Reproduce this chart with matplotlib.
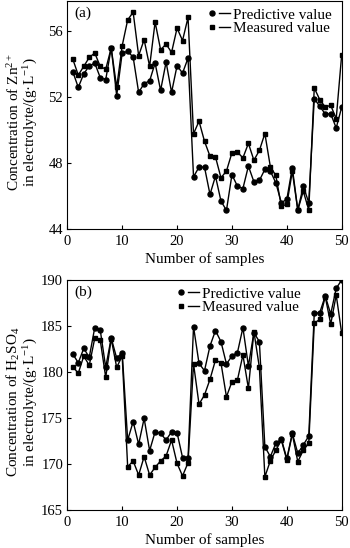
import matplotlib
matplotlib.use("Agg")
import matplotlib.pyplot as plt
from matplotlib.lines import Line2D
from matplotlib.legend_handler import HandlerTuple

plt.rcParams["font.family"] = ["Liberation Serif", "DejaVu Serif"]
plt.rcParams["mathtext.fontset"] = "custom"
plt.rcParams["mathtext.rm"] = "Liberation Serif"
plt.rcParams["mathtext.it"] = "Liberation Serif:italic"

samples = list(range(1, 51))

# panel (a): Zn2+ concentration, g/L
zn_pred = [53.56, 52.6, 53.43, 53.9, 54.08, 53.2, 53.07, 55.0, 52.1, 54.69,
           54.79, 54.44, 52.3, 52.83, 53.0, 54.08, 52.42, 54.14, 52.3, 53.92,
           53.47, 54.38, 47.17, 47.76, 47.76, 46.1, 47.21, 45.7, 45.13, 47.3,
           46.6, 46.46, 47.82, 46.87, 46.95, 47.62, 47.52, 46.8, 45.6, 45.8,
           47.72, 45.15, 46.6, 45.6, 51.92, 51.45, 50.99, 50.99, 50.14, 51.4]
zn_meas = [54.32, 53.35, 53.88, 54.42, 54.69, 53.88, 53.7, 55.0, 52.6, 55.13,
           56.7, 57.17, 54.53, 55.5, 53.88, 56.57, 54.89, 55.23, 54.73, 56.2,
           55.45, 56.85, 49.78, 50.55, 49.33, 48.42, 48.38, 47.11, 47.52, 48.63,
           48.67, 48.32, 49.2, 48.18, 48.77, 49.8, 47.78, 47.25, 45.37, 45.5,
           47.5, 45.15, 46.3, 45.15, 52.57, 51.86, 51.41, 51.51, 50.7, 54.59]

# panel (b): H2SO4 concentration, g/L
h2so4_pred = [181.96, 181.0, 182.57, 181.6, 184.82, 184.57, 180.5, 183.7, 181.5, 182.1,
              172.6, 174.6, 172.14, 174.96, 171.45, 173.5, 173.33, 172.6, 173.5, 173.4,
              170.7, 170.6, 184.93, 180.94, 180.14, 182.83, 184.5, 183.3, 180.87, 181.74,
              182.1, 184.82, 180.65, 184.28, 183.3, 171.88, 170.8, 172.25, 172.7, 170.6,
              173.33, 171.16, 172.07, 173.04, 186.38, 186.45, 188.26, 186.3, 189.1, 190.0]
h2so4_meas = [180.58, 179.86, 181.74, 180.72, 183.66, 183.48, 179.42, 183.6, 180.5, 181.74,
              169.7, 170.33, 168.8, 170.8, 168.8, 169.64, 170.33, 170.87, 172.6, 170.07,
              168.7, 170.14, 180.9, 176.5, 177.5, 179.2, 181.3, 181.0, 177.3, 178.95,
              179.13, 181.85, 178.22, 184.4, 180.5, 168.6, 170.36, 171.5, 172.6, 170.43,
              173.26, 170.25, 171.5, 172.25, 185.3, 185.72, 188.2, 185.2, 188.37, 184.2]

fig = plt.figure(figsize=(3.5, 5.48), dpi=100)
ax_a = fig.add_axes([67.3 / 350, 1 - 229 / 548, 274.4 / 350, 228 / 548])
ax_b = fig.add_axes([67.3 / 350, 1 - 510 / 548, 274.4 / 350, 230 / 548])


def draw_panel(ax, pred, meas, ylim, yticks, ylabel, tag, leg_anchor):
    ax.plot(samples, pred, "-o", color="black", lw=1.0, ms=3.6)
    ax.plot(samples, meas, "-s", color="black", lw=1.0, ms=3.4)
    ax.set_xlim(0, 50)
    ax.set_ylim(*ylim)
    ax.set_xticks(range(0, 51, 10))
    ax.set_yticks(yticks)
    ax.tick_params(direction="in", length=3, width=0.8, labelsize=10.5, pad=4)
    ax.tick_params(axis="y", pad=3)
    for s in ax.spines.values():
        s.set_linewidth(0.8)
    ax.set_xlabel("Number of samples", fontsize=11, labelpad=3)
    ax.set_ylabel(ylabel, fontsize=11, linespacing=0.95)
    ax.yaxis.set_label_coords(-0.1, 0.47)
    ax.text(0.025, 0.975, tag, transform=ax.transAxes, fontsize=11,
            ha="left", va="top")
    h_pred = (Line2D([], [], marker="o", ls="none", color="black", ms=3.6),
              Line2D([], [], ls="-", lw=1.0, color="black"))
    h_meas = (Line2D([], [], marker="s", ls="none", color="black", ms=3.4),
              Line2D([], [], ls="-", lw=1.0, color="black"))
    ax.legend([h_pred, h_meas], ["Predictive value", "Measured value"],
              handler_map={tuple: HandlerTuple(ndivide=None, pad=0.1)},
              loc="upper left", bbox_to_anchor=leg_anchor, frameon=False,
              fontsize=11, handlelength=1.5, handletextpad=0.2,
              labelspacing=0.0, borderpad=0, borderaxespad=0)


draw_panel(ax_a, zn_pred, zn_meas, (44, 57.85), [44, 48, 52, 56],
           "Concentration of Zn$^{2+}$\nin electrolyte/(g\u00b7L$^{-1}$)",
           "(a)", (0.509, 0.97))
draw_panel(ax_b, h2so4_pred, h2so4_meas, (165, 190), [165, 170, 175, 180, 185, 190],
           "Concentration of H$_2$SO$_4$\nin electrolyte/(g\u00b7L$^{-1}$)",
           "(b)", (0.396, 0.97))

fig.savefig("out.png", dpi=100)
